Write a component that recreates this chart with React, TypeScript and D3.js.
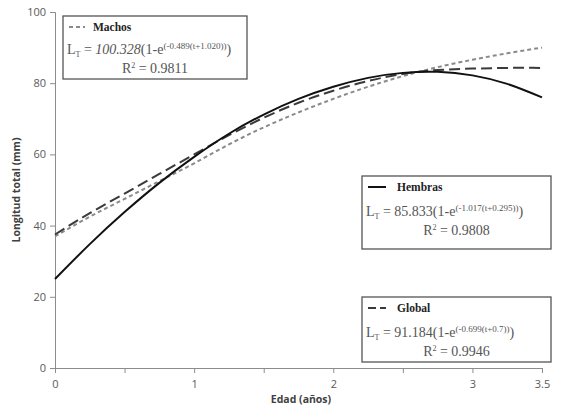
import React, { useEffect, useRef } from 'react';
import * as d3 from 'd3';

const ages = [0, 0.25, 0.5, 0.75, 1, 1.25, 1.5, 1.75, 2, 2.25, 2.5, 2.75, 3, 3.25, 3.5];
const hembras = [25, 34.8, 43.8, 52, 59.3, 65.8, 71.2, 75.6, 79, 81.5, 82.9, 83.2, 82.2, 79.8, 76];
const machos = [37, 42.5, 47.5, 52.5, 57.5, 62.8, 67.6, 71.8, 75.6, 79, 82, 84.5, 86.6, 88.4, 90];
const globalFit = [37.5, 43.5, 49, 54.5, 60, 65.4, 70.3, 74.5, 77.9, 80.6, 82.6, 83.7, 84.1, 84.3, 84.3];

const xTicks = [0, 0.5, 1, 1.5, 2, 2.5, 3, 3.5];
const xTickLabels = ['0', '', '1', '', '2', '', '3', '3.5'];
const yTicks = [0, 20, 40, 60, 80, 100];

const legendNames = ['Machos', 'Hembras', 'Global'];
const legendK = ['100.328', '85.833', '91.184'];
const legendExp = ['(-0.489(t+1.020))', '(-1.017(t+0.295))', '(-0.699(t+0.7))'];
const legendR2 = ['0.9811', '0.9808', '0.9946'];

const W = 565;
const H = 408;

export default function App() {
    const ref = useRef<SVGSVGElement>(null);

    useEffect(() => {
        const svg = d3.select(ref.current);
        svg.selectAll('*').remove();

        const x = d3.scaleLinear().domain([0, 3.5]).range([55, 542]);
        const y = d3.scaleLinear().domain([0, 100]).range([368, 12]);
        const axisColor = '#8c8c8c';
        const labelColor = '#595959';

        // axes
        const gx = svg.append('g').attr('transform', 'translate(0,' + y(0) + ')');
        gx.call(
            d3.axisBottom(x)
                .tickValues(xTicks)
                .tickSize(5)
                .tickFormat((d, i) => xTickLabels[i])
        );
        const gy = svg.append('g').attr('transform', 'translate(' + x(0) + ',0)');
        gy.call(d3.axisLeft(y).tickValues(yTicks).tickSize(5));

        [gx, gy].forEach(g => {
            g.select('.domain').attr('stroke', axisColor).attr('stroke-width', 1);
            g.selectAll('.tick line').attr('stroke', axisColor);
            g.selectAll('.tick text')
                .attr('fill', labelColor)
                .attr('font-family', 'Open Sans, sans-serif')
                .attr('font-size', 11);
        });
        gx.selectAll('.tick text').attr('dy', '1.1em');
        gy.selectAll('.tick text').attr('x', -9);

        svg.append('text')
            .attr('x', 301)
            .attr('y', 403)
            .attr('text-anchor', 'middle')
            .attr('font-family', 'Open Sans, sans-serif')
            .attr('font-weight', 'bold')
            .attr('font-size', 10.5)
            .attr('fill', '#404040')
            .text('Edad (años)');
        svg.append('text')
            .attr('transform', 'translate(20,190) rotate(-90)')
            .attr('text-anchor', 'middle')
            .attr('font-family', 'Open Sans, sans-serif')
            .attr('font-weight', 'bold')
            .attr('font-size', 10.5)
            .attr('fill', '#404040')
            .text('Longitud total (mm)');

        // curves
        const series = [
            { values: machos, color: '#8a8a8a', dash: '4,3', width: 2 },
            { values: globalFit, color: '#3a3a3a', dash: '11,5', width: 2 },
            { values: hembras, color: '#111111', dash: null, width: 2 }
        ];
        const line = d3.line<number>()
            .x((d, i) => x(ages[i]))
            .y(d => y(d))
            .curve(d3.curveNatural);
        series.forEach(s => {
            svg.append('path')
                .attr('d', line(s.values))
                .attr('fill', 'none')
                .attr('stroke', s.color)
                .attr('stroke-width', s.width)
                .attr('stroke-dasharray', s.dash);
        });

        // legend boxes with the fitted equations
        const boxes = [
            { x0: 63, y0: 16, w: 184, h: 63, color: '#8a8a8a', dash: '4,3', italic: true },
            { x0: 362, y0: 176, w: 189, h: 73, color: '#111111', dash: null, italic: false },
            { x0: 362, y0: 297, w: 189, h: 65, color: '#3a3a3a', dash: '8,4', italic: false }
        ];
        boxes.forEach((b, i) => {
            const g = svg.append('g').attr('transform', 'translate(' + b.x0 + ',' + b.y0 + ')');
            g.append('rect')
                .attr('width', b.w)
                .attr('height', b.h)
                .attr('fill', 'white')
                .attr('stroke', '#555')
                .attr('stroke-width', 1.3);
            g.append('line')
                .attr('x1', 6).attr('x2', i === 0 ? 22 : 24)
                .attr('y1', 11).attr('y2', 11)
                .attr('stroke', b.color)
                .attr('stroke-width', 2)
                .attr('stroke-dasharray', b.dash);
            g.append('text')
                .attr('x', i === 0 ? 30 : 35)
                .attr('y', 15)
                .attr('font-family', 'Liberation Serif, serif')
                .attr('font-weight', 'bold')
                .attr('font-size', 11.5)
                .attr('fill', '#222')
                .text(legendNames[i]);

            const eq = g.append('text')
                .attr('x', 4)
                .attr('y', i === 0 ? 38 : 40)
                .attr('font-family', 'Liberation Serif, serif')
                .attr('font-size', 14)
                .attr('fill', '#555');
            eq.append('tspan').text('L');
            eq.append('tspan').attr('font-size', 8).attr('dy', 3).text('T');
            eq.append('tspan').attr('dy', -3).text(' = ');
            eq.append('tspan').attr('font-style', b.italic ? 'italic' : 'normal').text(legendK[i]);
            eq.append('tspan').text('(1-e');
            eq.append('tspan').attr('font-size', 9).attr('dy', -5).text(legendExp[i]);
            eq.append('tspan').attr('dy', 5).text(')');

            const r2 = g.append('text')
                .attr('x', b.w / 2)
                .attr('y', i === 0 ? 57 : 59)
                .attr('text-anchor', 'middle')
                .attr('font-family', 'Liberation Serif, serif')
                .attr('font-size', 14)
                .attr('fill', '#555');
            r2.append('tspan').text('R');
            r2.append('tspan').attr('font-size', 8).attr('dy', -5).text('2');
            r2.append('tspan').attr('dy', 5).text(' = ' + legendR2[i]);
        });
    }, []);

    return (
        <svg
            ref={ref}
            width={W}
            height={H}
            style={{ position: 'absolute', left: 0, top: 0, background: 'white' }}
        />
    );
}
